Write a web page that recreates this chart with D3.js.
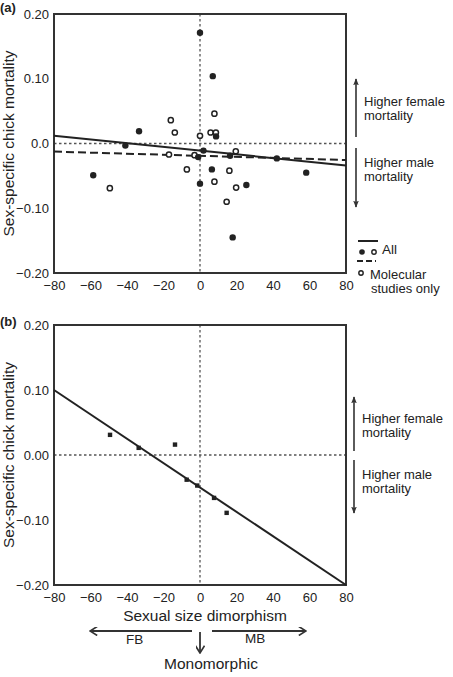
<!DOCTYPE html>
<html>
<head>
<meta charset="utf-8">
<script src="https://cdn.jsdelivr.net/npm/d3@7"></script>
<style>
  body { margin: 0; background: #fff; }
  svg text { font-family: "Liberation Sans", Arial, sans-serif; fill: #222; }
</style>
</head>
<body>
<div id="chart"></div>
<script>
// 1: DATA
// panel (a): all studies (filled) and molecular studies (open)
const filledX = [0, 7, -33.4, 8.8, -40.9, 1.9, -1, 16.5, 42.1, 6.5, 58.2, -58.5, 0, 25.4, 17.9];
const filledY = [0.171, 0.104, 0.019, 0.011, -0.003, -0.011, -0.021, -0.019, -0.023, -0.040, -0.045, -0.049, -0.062, -0.064, -0.145];
const openX = [-16, -13.8, 0, 7.9, 5.8, 8.7, -17, -3, 19.6, -7.2, 16.1, -49.4, 7.9, 19.8, 14.6];
const openY = [0.036, 0.017, 0.012, 0.046, 0.017, 0.017, -0.017, -0.018, -0.012, -0.040, -0.042, -0.069, -0.059, -0.068, -0.090];
const fitX = [-80, 80];
const fitAllY = [0.012, -0.034];
const fitMolY = [-0.0125, -0.0255];

// panel (b)
const squareX = [-49.3, -33.6, -13.7, -7.3, -1.5, 7.7, 14.6];
const squareY = [0.031, 0.011, 0.016, -0.038, -0.047, -0.066, -0.089];
const fitBY = [0.10, -0.20];

const xTicks = [-80, -60, -40, -20, 0, 20, 40, 60, 80];
const yTicks = [-0.2, -0.1, 0, 0.1, 0.2];
const yLabelsA = ["\u22120.20", "\u22120.10", "0.0", "0.10", "0.20"];
const yLabelsB = ["\u22120.20", "\u22120.10", "0.00", "0.10", "0.20"];

// 2: SVG
const svg = d3.select("#chart").append("svg")
  .attr("width", 453)
  .attr("height", 677);

const defs = svg.append("defs");
defs.append("marker")
  .attr("id", "head")
  .attr("viewBox", "0 0 10 10")
  .attr("refX", 9).attr("refY", 5)
  .attr("markerWidth", 7).attr("markerHeight", 7)
  .attr("markerUnits", "userSpaceOnUse")
  .attr("orient", "auto")
  .append("path")
  .attr("d", "M0,1 L10,5 L0,9 L2,5 Z")
  .attr("fill", "#333");
defs.append("marker")
  .attr("id", "chev")
  .attr("viewBox", "0 0 10 10")
  .attr("refX", 9).attr("refY", 5)
  .attr("markerWidth", 9).attr("markerHeight", 9)
  .attr("markerUnits", "userSpaceOnUse")
  .attr("orient", "auto")
  .append("path")
  .attr("d", "M1,0 L9,5 L1,10")
  .attr("fill", "none")
  .attr("stroke", "#333")
  .attr("stroke-width", 1.8);

const left = 54, right = 346;

function drawPanel(top, bottom, yLabels, label, labelY) {
  const x = d3.scaleLinear().domain([-80, 80]).range([left, right]);
  const y = d3.scaleLinear().domain([-0.2, 0.2]).range([bottom, top]);
  const g = svg.append("g");

  // reference dotted lines
  g.append("line")
    .attr("x1", x(0)).attr("x2", x(0))
    .attr("y1", top).attr("y2", bottom)
    .attr("stroke", "#555").attr("stroke-width", 1.3)
    .attr("stroke-dasharray", "2.5,2.5");
  g.append("line")
    .attr("x1", left).attr("x2", right)
    .attr("y1", y(0)).attr("y2", y(0))
    .attr("stroke", "#555").attr("stroke-width", 1.3)
    .attr("stroke-dasharray", "2.5,2.5");

  // axes
  const xAxis = g.append("g")
    .attr("transform", `translate(0,${bottom})`)
    .call(d3.axisBottom(x).tickValues(xTicks).tickSize(0).tickPadding(8)
      .tickFormat(d => d < 0 ? "\u2212" + Math.abs(d) : d));
  const yAxis = g.append("g")
    .attr("transform", `translate(${left},0)`)
    .call(d3.axisLeft(y).tickValues(yTicks).tickSize(0).tickPadding(5)
      .tickFormat((d, i) => yLabels[i]));
  [xAxis, yAxis].forEach(a => {
    a.select(".domain").remove();
    a.selectAll("text").attr("font-size", 13)
      .style("font-family", "'Liberation Sans', Arial, sans-serif").attr("fill", "#222");
  });

  // frame
  g.append("rect")
    .attr("x", left).attr("y", top)
    .attr("width", right - left).attr("height", bottom - top)
    .attr("fill", "none").attr("stroke", "#333").attr("stroke-width", 2);

  // y label
  g.append("text")
    .attr("transform", `translate(14,${(top + bottom) / 2}) rotate(-90)`)
    .attr("text-anchor", "middle")
    .attr("font-size", 15.5)
    .text("Sex-specific chick mortality");

  // panel label
  g.append("text")
    .attr("x", 0).attr("y", labelY)
    .attr("font-size", 13).attr("font-weight", "bold")
    .text(label);

  return { x, y, g };
}

function sideNotes(xArrow, upTop, upBottom, downTop, downBottom, fBase, mBase) {
  svg.append("line")
    .attr("x1", xArrow).attr("x2", xArrow)
    .attr("y1", upBottom).attr("y2", upTop)
    .attr("stroke", "#333").attr("stroke-width", 1.6)
    .attr("marker-end", "url(#head)");
  svg.append("line")
    .attr("x1", xArrow).attr("x2", xArrow)
    .attr("y1", downTop).attr("y2", downBottom)
    .attr("stroke", "#333").attr("stroke-width", 1.6)
    .attr("marker-end", "url(#head)");
  const lines = [["Higher female", fBase], ["mortality", fBase + 14.5],
                 ["Higher male", mBase], ["mortality", mBase + 14.5]];
  lines.forEach(([t, yy]) => {
    svg.append("text").attr("x", xArrow + 8).attr("y", yy)
      .attr("font-size", 13).text(t);
  });
}

// 3: PANEL (a)
const A = drawPanel(14, 273, yLabelsA, "(a)", 12);
const line = d3.line().x((d, i) => A.x(fitX[i])).y(d => A.y(d));

A.g.append("path").datum(fitMolY)
  .attr("d", line)
  .attr("fill", "none").attr("stroke", "#222").attr("stroke-width", 2)
  .attr("stroke-dasharray", "8,4");
A.g.append("path").datum(fitAllY)
  .attr("d", line)
  .attr("fill", "none").attr("stroke", "#222").attr("stroke-width", 2);

A.g.selectAll(".open").data(openX)
  .join("circle")
  .attr("class", "open")
  .attr("cx", d => A.x(d))
  .attr("cy", (d, i) => A.y(openY[i]))
  .attr("r", 2.6)
  .attr("fill", "#fff").attr("stroke", "#222").attr("stroke-width", 1.5);
A.g.selectAll(".filled").data(filledX)
  .join("circle")
  .attr("class", "filled")
  .attr("cx", d => A.x(d))
  .attr("cy", (d, i) => A.y(filledY[i]))
  .attr("r", 3.2)
  .attr("fill", "#222");

sideNotes(356, 79, 137, 148, 207, 105.5, 166.5);

// legend (a)
const leg = svg.append("g");
leg.append("line").attr("x1", 358).attr("x2", 378).attr("y1", 241).attr("y2", 241)
  .attr("stroke", "#222").attr("stroke-width", 2);
leg.append("circle").attr("cx", 362).attr("cy", 252).attr("r", 2.8).attr("fill", "#222");
leg.append("circle").attr("cx", 374).attr("cy", 252).attr("r", 2.2)
  .attr("fill", "#fff").attr("stroke", "#222").attr("stroke-width", 1.4);
leg.append("text").attr("x", 382).attr("y", 254).attr("font-size", 13.5).text("All");
leg.append("line").attr("x1", 357).attr("x2", 376).attr("y1", 261).attr("y2", 261)
  .attr("stroke", "#222").attr("stroke-width", 2).attr("stroke-dasharray", "6,3");
leg.append("circle").attr("cx", 361).attr("cy", 273).attr("r", 2.2)
  .attr("fill", "#fff").attr("stroke", "#222").attr("stroke-width", 1.4);
leg.append("text").attr("x", 370).attr("y", 278.5).attr("font-size", 13).text("Molecular");
leg.append("text").attr("x", 371).attr("y", 293).attr("font-size", 13).text("studies only");

// 4: PANEL (b)
const B = drawPanel(325, 585, yLabelsB, "(b)", 326);
const lineB = d3.line().x((d, i) => B.x(fitX[i])).y(d => B.y(d));
B.g.append("path").datum(fitBY)
  .attr("d", lineB)
  .attr("fill", "none").attr("stroke", "#222").attr("stroke-width", 2);
B.g.selectAll(".sq").data(squareX)
  .join("rect")
  .attr("class", "sq")
  .attr("x", d => B.x(d) - 2.2)
  .attr("y", (d, i) => B.y(squareY[i]) - 2.2)
  .attr("width", 4.4).attr("height", 4.4)
  .attr("fill", "#222");

sideNotes(354, 397, 451, 460, 513, 422.5, 478.5);

// x label and dimorphism arrows
svg.append("text").attr("x", 205).attr("y", 621)
  .attr("text-anchor", "middle").attr("font-size", 15.5)
  .text("Sexual size dimorphism");
const x0 = B.x(0);
svg.append("line").attr("x1", 192).attr("x2", 90).attr("y1", 631).attr("y2", 631)
  .attr("stroke", "#333").attr("stroke-width", 1.8).attr("marker-end", "url(#chev)");
svg.append("line").attr("x1", 212).attr("x2", 306).attr("y1", 631).attr("y2", 631)
  .attr("stroke", "#333").attr("stroke-width", 1.8).attr("marker-end", "url(#chev)");
svg.append("line").attr("x1", x0).attr("x2", x0).attr("y1", 632).attr("y2", 653)
  .attr("stroke", "#333").attr("stroke-width", 1.8).attr("marker-end", "url(#chev)");
svg.append("text").attr("x", 126).attr("y", 644).attr("font-size", 13.5).text("FB");
svg.append("text").attr("x", 245).attr("y", 643).attr("font-size", 13.5).text("MB");
svg.append("text").attr("x", 211).attr("y", 669)
  .attr("text-anchor", "middle").attr("font-size", 15.5).text("Monomorphic");
</script>
</body>
</html>
